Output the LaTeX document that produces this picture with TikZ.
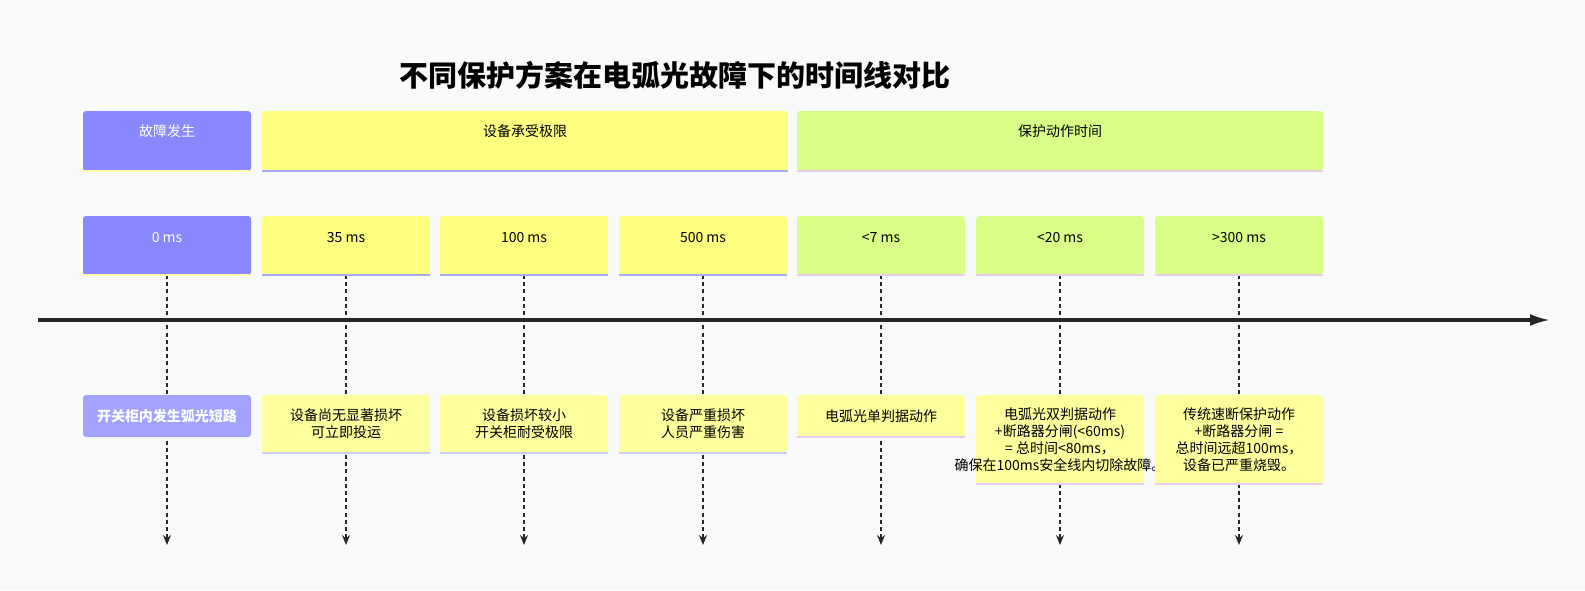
\documentclass[tikz,border=0pt]{standalone}
\usepackage{fontspec}
\setmainfont{Noto Sans CJK SC}
\usetikzlibrary{positioning,calc,arrows.meta}
\definecolor{colorBG}{HTML}{F8FAFC}
\definecolor{colorFault}{HTML}{8888FF}
\definecolor{colorFaultL}{HTML}{A3A3FF}
\definecolor{colorLimit}{HTML}{FFFF80}
\definecolor{colorProt}{HTML}{D9FF88}
\definecolor{colorNote}{HTML}{FFFF9E}
\definecolor{colorLineA}{HTML}{AAAAEE}
\definecolor{colorLineB}{HTML}{E8CCF0}
\definecolor{colorLineC}{HTML}{FFF7B0}
\tikzset{
   every path/.style={>=Stealth},
   box/.style={rectangle,rounded corners=1.5pt,anchor=north west,minimum width=84pt,inner sep=0pt,outer sep=0pt},
   hdr/.style={box,minimum height=30pt},
   tick/.style={box,minimum height=29.5pt},
   lbl/.style={font=\fontsize{7}{8.5}\selectfont,align=center,inner sep=0pt},
   note/.style={box,lbl},
   fault/.style={fill=colorFault},
   limit/.style={fill=colorLimit},
   prot/.style={fill=colorProt},
   drop/.style={-{Stealth[length=5pt,width=4pt]},dash pattern=on 2pt off 1.6pt,line width=0.8pt,black!85},
   axis/.style={-{Latex[length=10pt,width=6pt]},line width=1.6pt,black!85},
   uline/.style={line width=1.2pt},
}
\begin{document}
\begin{tikzpicture}[x=0.5pt,y=-0.5pt]
      \fill[colorBG] (0,0) rectangle (1585,590);
      \node (title) at (675,75) {\fontsize{14.5}{17}\selectfont\bfseries 不同保护方案在电弧光故障下的时间线对比};
      % section headers
      \node[hdr,fault] (hfault) at (83,111) {};
      \node[hdr,limit,minimum width=263pt] (hlimit) at (262,111) {};
      \node[hdr,prot,minimum width=263pt] (hprot) at (797,111) {};
      \node[lbl,text=white] (lfault) at ($(hfault.north)+(0,20)$) {故障发生};
      \node[lbl] (llimit) at ($(hlimit.north)+(0,20)$) {设备承受极限};
      \node[lbl] (lprot) at ($(hprot.north)+(0,20)$) {保护动作时间};
      \draw[colorLineC,uline] (hfault.south west) -- (hfault.south east);
      \draw[colorLineA,uline] (hlimit.south west) -- (hlimit.south east);
      \draw[colorLineB,uline] (hprot.south west) -- (hprot.south east);
      % time marks
      \node[tick,fault] (t0) at (83,216) {};
      \node[tick,limit] (t1) at (262,216) {};
      \node[tick,limit] (t2) at (440,216) {};
      \node[tick,limit] (t3) at (619,216) {};
      \node[tick,prot] (t4) at (797,216) {};
      \node[tick,prot] (t5) at (976,216) {};
      \node[tick,prot] (t6) at (1155,216) {};
      \node[lbl,text=white] (l0) at ($(t0.north)+(0,22)$) {0 ms};
      \node[lbl] (l1) at ($(t1.north)+(0,22)$) {35 ms};
      \node[lbl] (l2) at ($(t2.north)+(0,22)$) {100 ms};
      \node[lbl] (l3) at ($(t3.north)+(0,22)$) {500 ms};
      \node[lbl] (l4) at ($(t4.north)+(0,22)$) {<7 ms};
      \node[lbl] (l5) at ($(t5.north)+(0,22)$) {<20 ms};
      \node[lbl] (l6) at ($(t6.north)+(0,22)$) {>300 ms};
      % axis
      \coordinate (ax0) at (38,320);
      \coordinate (ax1) at (1550,320);
      \draw[axis] (ax0) -- (ax1);
      % drop lines
      \foreach \i in {0,...,6}{
         \coordinate (e\i) at ($(t\i.south)+(0,270)$);
         \draw[drop] (t\i.south) -- (e\i);
      }
      \draw[colorLineC,uline] (t0.south west) -- (t0.south east);
      \foreach \i in {1,2,3}
         \draw[colorLineA,uline] (t\i.south west) -- (t\i.south east);
      \foreach \i in {4,5,6}
         \draw[colorLineB,uline] (t\i.south west) -- (t\i.south east);
      % notes
      \node[note,fill=colorFaultL,text=white,minimum height=21pt] (n0) at (83,395) {\bfseries 开关柜内发生弧光短路};
      \node[note,fill=colorNote,minimum height=29pt] (n1) at (262,395) {设备尚无显著损坏\\可立即投运};
      \node[note,fill=colorNote,minimum height=29pt] (n2) at (440,395) {设备损坏较小\\开关柜耐受极限};
      \node[note,fill=colorNote,minimum height=29pt] (n3) at (619,395) {设备严重损坏\\人员严重伤害};
      \node[note,fill=colorNote,minimum height=21pt] (n4) at (797,395) {电弧光单判据动作};
      \node[note,fill=colorNote,minimum height=44.5pt] (n5) at (976,395) {电弧光双判据动作\\+断路器分闸(<60ms)\\= 总时间<80ms，\\\makebox[0pt][c]{确保在100ms安全线内切除故障。}};
      \node[note,fill=colorNote,minimum height=44.5pt] (n6) at (1155,395) {传统速断保护动作\\+断路器分闸 =\\总时间远超100ms，\\设备已严重烧毁。};
      \foreach \i in {1,2,3}
         \draw[colorLineA!60,uline] (n\i.south west) -- (n\i.south east);
      \foreach \i in {4,5,6}
         \draw[colorLineB,uline] (n\i.south west) -- (n\i.south east);
      \pgfresetboundingbox
      \useasboundingbox (0,0) rectangle (1585,590);
\end{tikzpicture}
\end{document}
